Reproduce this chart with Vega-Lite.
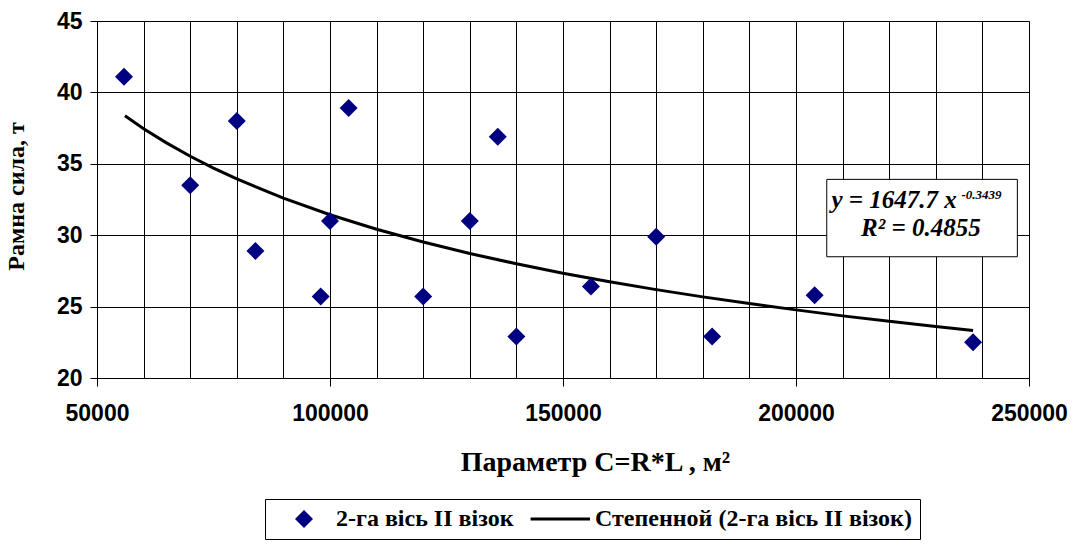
{
  "$schema": "https://vega.github.io/schema/vega-lite/v6.json",
  "width": 932,
  "height": 357,
  "autosize": {"type": "none"},
  "padding": {"left": 97, "top": 21, "right": 48, "bottom": 167},
  "config": {"view": {"stroke": null}, "font": "Liberation Sans", "background": "white"},
  "datasets": {
    "points": [
      {"C": 55800, "F": 41.1, "s": "2-га вісь ІІ візок"},
      {"C": 70000, "F": 33.5, "s": "2-га вісь ІІ візок"},
      {"C": 80000, "F": 38.0, "s": "2-га вісь ІІ візок"},
      {"C": 84000, "F": 28.9, "s": "2-га вісь ІІ візок"},
      {"C": 98000, "F": 25.7, "s": "2-га вісь ІІ візок"},
      {"C": 100000, "F": 31.0, "s": "2-га вісь ІІ візок"},
      {"C": 104000, "F": 38.9, "s": "2-га вісь ІІ візок"},
      {"C": 120000, "F": 25.7, "s": "2-га вісь ІІ візок"},
      {"C": 130000, "F": 31.0, "s": "2-га вісь ІІ візок"},
      {"C": 136000, "F": 36.9, "s": "2-га вісь ІІ візок"},
      {"C": 140000, "F": 22.9, "s": "2-га вісь ІІ візок"},
      {"C": 156000, "F": 26.4, "s": "2-га вісь ІІ візок"},
      {"C": 170000, "F": 29.9, "s": "2-га вісь ІІ візок"},
      {"C": 182000, "F": 22.9, "s": "2-га вісь ІІ візок"},
      {"C": 204000, "F": 25.8, "s": "2-га вісь ІІ візок"},
      {"C": 238000, "F": 22.5, "s": "2-га вісь ІІ візок"}
    ],
    "trend": [
      {"C": 56000, "F": 38.36, "s": "Степенной (2-га вісь ІІ візок)"},
      {"C": 60000, "F": 37.46, "s": "Степенной (2-га вісь ІІ візок)"},
      {"C": 65000, "F": 36.45, "s": "Степенной (2-га вісь ІІ візок)"},
      {"C": 70000, "F": 35.53, "s": "Степенной (2-га вісь ІІ візок)"},
      {"C": 75000, "F": 34.70, "s": "Степенной (2-га вісь ІІ візок)"},
      {"C": 80000, "F": 33.94, "s": "Степенной (2-га вісь ІІ візок)"},
      {"C": 90000, "F": 32.59, "s": "Степенной (2-га вісь ІІ візок)"},
      {"C": 100000, "F": 31.43, "s": "Степенной (2-га вісь ІІ візок)"},
      {"C": 110000, "F": 30.42, "s": "Степенной (2-га вісь ІІ візок)"},
      {"C": 120000, "F": 29.52, "s": "Степенной (2-га вісь ІІ візок)"},
      {"C": 130000, "F": 28.72, "s": "Степенной (2-га вісь ІІ візок)"},
      {"C": 140000, "F": 28.00, "s": "Степенной (2-га вісь ІІ візок)"},
      {"C": 150000, "F": 27.34, "s": "Степенной (2-га вісь ІІ візок)"},
      {"C": 160000, "F": 26.74, "s": "Степенной (2-га вісь ІІ візок)"},
      {"C": 170000, "F": 26.19, "s": "Степенной (2-га вісь ІІ візок)"},
      {"C": 180000, "F": 25.68, "s": "Степенной (2-га вісь ІІ візок)"},
      {"C": 190000, "F": 25.21, "s": "Степенной (2-га вісь ІІ візок)"},
      {"C": 200000, "F": 24.77, "s": "Степенной (2-га вісь ІІ візок)"},
      {"C": 210000, "F": 24.35, "s": "Степенной (2-га вісь ІІ візок)"},
      {"C": 220000, "F": 23.97, "s": "Степенной (2-га вісь ІІ візок)"},
      {"C": 230000, "F": 23.60, "s": "Степенной (2-га вісь ІІ візок)"},
      {"C": 238000, "F": 23.33, "s": "Степенной (2-га вісь ІІ візок)"}
    ],
    "box": [{"C": 206600, "C2": 247500, "F": 33.91, "F2": 28.49}],
    "eq1": [{"C": 234500, "F": 32.45, "t": "y = 1647.7 x"}],
    "eq1sup": [{"C": 235500, "F": 32.85, "t": "-0.3439"}],
    "eq2": [{"C": 226800, "F": 30.5, "t": "R² = 0.4855"}]
  },
  "encoding": {
    "x": {
      "field": "C",
      "type": "quantitative",
      "scale": {"domain": [50000, 250000], "nice": false, "zero": false},
      "axis": {
        "values": [50000, 60000, 70000, 80000, 90000, 100000, 110000, 120000, 130000, 140000, 150000, 160000, 170000, 180000, 190000, 200000, 210000, 220000, 230000, 240000, 250000],
        "format": "d",
        "labelExpr": "datum.value % 50000 === 0 ? datum.label : ''",
        "tickColor": {"condition": {"test": "datum.value % 50000 === 0", "value": "black"}, "value": "transparent"},
        "tickSize": 8,
        "labelPadding": 16,
        "labelFlush": false,
        "labelFont": "Liberation Sans",
        "labelFontSize": 23,
        "labelFontWeight": "bold",
        "labelColor": "black",
        "labelOverlap": false,
        "domainColor": "black",
        "gridColor": "black",
        "gridOpacity": 1,
        "title": "Параметр C=R*L , м²",
        "titleFont": "Liberation Serif",
        "titleFontSize": 28,
        "titleFontWeight": "bold",
        "titleColor": "black",
        "titlePadding": 23,
        "titleX": 498
      }
    },
    "y": {
      "field": "F",
      "type": "quantitative",
      "scale": {"domain": [20, 45], "nice": false, "zero": false},
      "axis": {
        "values": [20, 25, 30, 35, 40, 45],
        "tickSize": 7,
        "tickColor": "black",
        "labelPadding": 8,
        "labelFont": "Liberation Sans",
        "labelFontSize": 23,
        "labelFontWeight": "bold",
        "labelColor": "black",
        "domainColor": "black",
        "gridColor": "black",
        "gridOpacity": 1,
        "title": "Рамна сила, т",
        "titleFont": "Liberation Serif",
        "titleFontSize": 24,
        "titleFontWeight": "bold",
        "titleColor": "black",
        "titlePadding": 28,
        "titleY": 175
      }
    }
  },
  "layer": [
    {
      "data": {"name": "box"},
      "mark": {"type": "rect", "fill": "white", "stroke": "black", "strokeWidth": 1},
      "encoding": {"x2": {"field": "C2"}, "y2": {"field": "F2"}}
    },
    {
      "data": {"name": "trend"},
      "mark": {"type": "line", "strokeWidth": 3},
      "encoding": {
        "color": {
          "field": "s",
          "type": "nominal",
          "scale": {"domain": ["2-га вісь ІІ візок", "Степенной (2-га вісь ІІ візок)"], "range": ["#000080", "#000000"]},
          "legend": {
            "orient": "none",
            "legendX": 168,
            "legendY": 478,
            "direction": "horizontal",
            "title": null,
            "strokeColor": "black",
            "padding": 8,
            "labelFont": "Liberation Serif",
            "labelFontWeight": "bold",
            "labelFontSize": 24,
            "labelColor": "black",
            "labelLimit": 500,
            "labelOffset": 20,
            "symbolOffset": 19,
            "columnPadding": 10,
            "symbolSize": 324,
            "encode": {
              "symbols": {
                "update": {
                  "shape": {"signal": "datum.index === 1 ? 'M-3.6,0H3' : 'diamond'"},
                  "fill": {"signal": "datum.index === 1 ? 'transparent' : '#000080'"},
                  "stroke": {"signal": "datum.index === 1 ? '#000000' : 'transparent'"},
                  "strokeWidth": {"signal": "datum.index === 1 ? 3 : 0"},
                  "size": {"value": 324},
                  "opacity": {"value": 1}
                }
              }
            }
          }
        }
      }
    },
    {
      "data": {"name": "points"},
      "mark": {"type": "point", "shape": "diamond", "filled": true, "size": 324, "opacity": 1},
      "encoding": {"color": {"field": "s", "type": "nominal"}}
    },
    {
      "data": {"name": "eq1"},
      "mark": {"type": "text", "align": "right", "baseline": "middle", "font": "Liberation Serif", "fontSize": 25, "fontWeight": "bold", "fontStyle": "italic", "color": "black"},
      "encoding": {"text": {"field": "t"}}
    },
    {
      "data": {"name": "eq1sup"},
      "mark": {"type": "text", "align": "left", "baseline": "middle", "font": "Liberation Serif", "fontSize": 13, "fontWeight": "bold", "fontStyle": "italic", "color": "black"},
      "encoding": {"text": {"field": "t"}}
    },
    {
      "data": {"name": "eq2"},
      "mark": {"type": "text", "align": "center", "baseline": "middle", "font": "Liberation Serif", "fontSize": 25, "fontWeight": "bold", "fontStyle": "italic", "color": "black"},
      "encoding": {"text": {"field": "t"}}
    }
  ]
}
